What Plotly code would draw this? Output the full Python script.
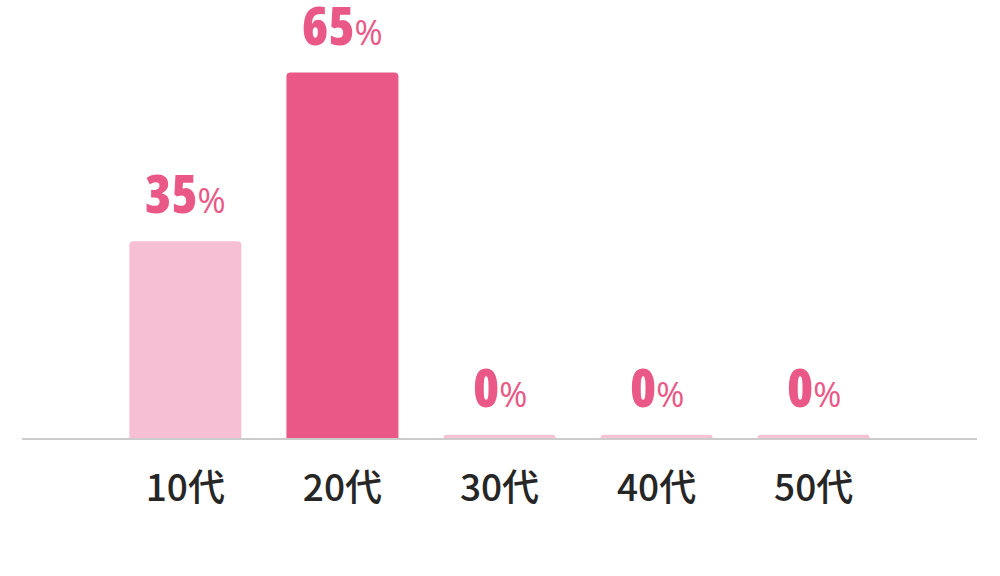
import plotly.graph_objects as go

categories = ["10代", "20代", "30代", "40代", "50代"]
values = [35, 65, 0, 0, 0]
bar_colors = ["#f6bfd3", "#e95886", "#f7c3d4", "#f7c3d4", "#f7c3d4"]
MIN_VISIBLE = 0.6  # zero bars are shown as a thin strip

x_pos = list(range(len(categories)))
shown = [max(v, MIN_VISIBLE) for v in values]

fig = go.Figure()
fig.add_trace(go.Bar(
    x=x_pos, y=shown, width=0.713,
    marker=dict(color=bar_colors, line=dict(width=0), cornerradius=4),
    hoverinfo="skip",
))

for xi, v in zip(x_pos, values):
    fig.add_annotation(
        x=xi, y=max(v, MIN_VISIBLE), xref="x", yref="y",
        text=(f"<span style='font-family:\"Open Sans\";font-stretch:75%;"
              f"font-weight:800;font-size:53px'>{v}</span>"
              f"<span style='font-size:34px;font-weight:normal'>%</span>"),
        showarrow=False, yanchor="bottom", yshift=10,
        font=dict(family="Open Sans, sans-serif", size=48, color="#e95886"),
    )

fig.update_layout(
    width=1000, height=576,
    margin=dict(l=22, r=23, t=0, b=138),
    paper_bgcolor="white", plot_bgcolor="white",
    showlegend=False,
    xaxis=dict(
        range=[-1.04, 5.04], tickvals=x_pos, ticktext=categories,
        showline=True, linecolor="#cccccc", linewidth=2,
        showgrid=False, zeroline=False,
        ticks="outside", ticklen=17, tickcolor="rgba(0,0,0,0)",
        tickfont=dict(family="Noto Sans CJK JP, sans-serif", size=37,
                      color="#262626", weight=500),
        fixedrange=True,
    ),
    yaxis=dict(range=[0, 77.9], visible=False, fixedrange=True),
)

fig.write_html("out.html", config={"displayModeBar": False},
               post_script="document.body.style.margin='0';document.body.style.overflow='hidden';")
